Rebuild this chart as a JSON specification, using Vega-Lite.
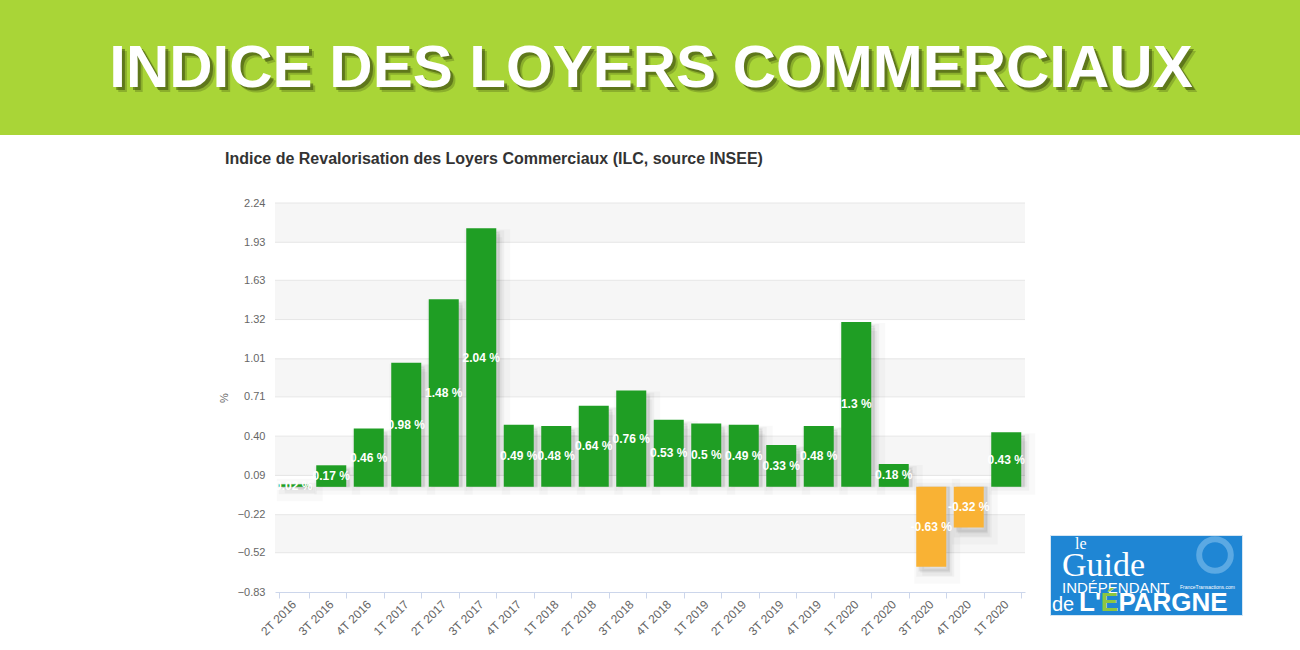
{
  "$schema": "https://vega.github.io/schema/vega-lite/v6.json",
  "padding": 0,
  "background": "#ffffff",
  "config": {"view": {"stroke": null}, "font": "Liberation Sans", "axisY": {"labelOverlap": false}},
  "datasets": {
    "bars": [
      {"q": "2T 2016", "v": 0.02},
      {"q": "3T 2016", "v": 0.17},
      {"q": "4T 2016", "v": 0.46},
      {"q": "1T 2017", "v": 0.98},
      {"q": "2T 2017", "v": 1.48},
      {"q": "3T 2017", "v": 2.04},
      {"q": "4T 2017", "v": 0.49},
      {"q": "1T 2018", "v": 0.48},
      {"q": "2T 2018", "v": 0.64},
      {"q": "3T 2018", "v": 0.76},
      {"q": "4T 2018", "v": 0.53},
      {"q": "1T 2019", "v": 0.5},
      {"q": "2T 2019", "v": 0.49},
      {"q": "3T 2019", "v": 0.33},
      {"q": "4T 2019", "v": 0.48},
      {"q": "1T 2020", "v": 1.3},
      {"q": "2T 2020", "v": 0.18},
      {"q": "3T 2020", "v": -0.63},
      {"q": "4T 2020", "v": -0.32},
      {"q": "1T 2020\u200b", "v": 0.43}
    ],
    "bands": [
      {"a": 2.24, "b": 1.93},
      {"a": 1.63, "b": 1.32},
      {"a": 1.01, "b": 0.71},
      {"a": 0.40, "b": 0.09},
      {"a": -0.22, "b": -0.52}
    ],
    "ticks": [
      {"t": 2.24}, {"t": 1.93}, {"t": 1.63}, {"t": 1.32}, {"t": 1.01}, {"t": 0.71},
      {"t": 0.40}, {"t": 0.09}, {"t": -0.22}, {"t": -0.52}
    ]
  },
  "spacing": 68,
  "bounds": "flush",
  "vconcat": [
    {
      "width": 1300,
      "height": 135,
      "view": {"fill": "#a9d537", "stroke": null},
      "data": {"values": [{"t": "INDICE DES LOYERS COMMERCIAUX"}]},
      "layer": [
        {
          "mark": {"type": "text", "font": "Liberation Sans", "fontWeight": "bold", "fontSize": 60, "color": "#34420c", "opacity": 0.25, "baseline": "alphabetic", "align": "center", "dx": 6, "dy": 24},
          "encoding": {"text": {"field": "t"}}
        },
        {
          "mark": {"type": "text", "font": "Liberation Sans", "fontWeight": "bold", "fontSize": 60, "color": "#34420c", "opacity": 0.5, "baseline": "alphabetic", "align": "center", "dx": 4, "dy": 22},
          "encoding": {"text": {"field": "t"}}
        },
        {
          "mark": {"type": "text", "font": "Liberation Sans", "fontWeight": "bold", "fontSize": 60, "color": "#ffffff", "baseline": "alphabetic", "align": "center", "dx": 1, "dy": 19},
          "encoding": {"text": {"field": "t"}}
        }
      ]
    },
    {
      "spacing": 25,
      "bounds": "flush",
      "hconcat": [
        {
          "width": 250,
          "height": 10,
          "data": {"values": [{}]},
          "mark": {"type": "text"},
          "encoding": {"text": {"value": ""}}
        },
        {
          "width": 750,
          "height": 389,
          "title": {"text": "Indice de Revalorisation des Loyers Commerciaux (ILC, source INSEE)", "anchor": "start", "frame": "group", "dx": -50, "offset": 30, "fontSize": 16, "fontWeight": "bold", "color": "#333333", "font": "Liberation Sans"},
          "layer": [
            {
              "data": {"name": "bands"},
              "mark": {"type": "rect", "color": "#f6f6f6"},
              "encoding": {
                "y": {
                  "field": "a", "type": "quantitative", "title": "%",
                  "scale": {"domain": [-0.83, 2.24], "nice": false, "zero": false},
                  "axis": {
                    "values": [2.24, 1.93, 1.63, 1.32, 1.01, 0.71, 0.40, 0.09, -0.22, -0.52, -0.83],
                    "tickCount": 20,
                    "format": ".2f", "grid": false, "domain": false, "ticks": false,
                    "labelOverlap": false, "labelPadding": 10, "labelColor": "#666666", "labelFontSize": 11,
                    "titleColor": "#666666", "titleFontSize": 11, "titleFontWeight": "normal", "titlePadding": 8
                  }
                },
                "y2": {"field": "b"}
              }
            },
            {
              "data": {"name": "ticks"},
              "mark": {"type": "rule", "color": "#e6e6e6", "strokeWidth": 1},
              "encoding": {"y": {"field": "t", "type": "quantitative", "title": "%"}}
            },
            {
              "data": {"name": "bars"},
              "mark": {"type": "bar", "color": "#000000", "fillOpacity": 0.03, "stroke": "#000000", "strokeOpacity": 0.025, "strokeWidth": 16, "xOffset": 6, "yOffset": 9},
              "encoding": {
                "x": {"field": "q", "type": "nominal", "sort": null, "scale": {"paddingInner": 0.2, "paddingOuter": 0.1}},
                "y": {"field": "v", "type": "quantitative", "title": "%"},
                "y2": {"datum": 0}
              }
            },
            {
              "data": {"name": "bars"},
              "mark": {"type": "bar", "color": "#000000", "fillOpacity": 0.04, "stroke": "#000000", "strokeOpacity": 0.035, "strokeWidth": 8, "xOffset": 4, "yOffset": 6},
              "encoding": {
                "x": {"field": "q", "type": "nominal", "sort": null},
                "y": {"field": "v", "type": "quantitative", "title": "%"},
                "y2": {"datum": 0}
              }
            },
            {
              "data": {"name": "bars"},
              "mark": {"type": "bar", "color": "#000000", "fillOpacity": 0.05, "stroke": "#000000", "strokeOpacity": 0.04, "strokeWidth": 2, "xOffset": 3, "yOffset": 4},
              "encoding": {
                "x": {"field": "q", "type": "nominal", "sort": null},
                "y": {"field": "v", "type": "quantitative", "title": "%"},
                "y2": {"datum": 0}
              }
            },
            {
              "data": {"name": "bars"},
              "mark": {"type": "bar"},
              "encoding": {
                "x": {
                  "field": "q", "type": "nominal", "sort": null,
                  "axis": {"title": null, "labelAngle": -45, "labelColor": "#666666", "labelFontSize": 12, "domainColor": "#ccd6eb", "tickColor": "#ccd6eb", "tickBand": "extent", "tickSize": 6, "labelPadding": 4, "grid": false}
                },
                "y": {"field": "v", "type": "quantitative", "title": "%"},
                "y2": {"datum": 0},
                "color": {"condition": {"test": "datum.v < 0", "value": "#f9b234"}, "value": "#1f9e24"}
              }
            },
            {
              "data": {"name": "bars"},
              "transform": [
                {"calculate": "toString(datum.v) + ' %'", "as": "lab"},
                {"calculate": "datum.v / 2", "as": "mid"}
              ],
              "mark": {"type": "text", "color": "#ffffff", "fontWeight": "bold", "fontSize": 12, "baseline": "middle", "align": "center"},
              "encoding": {
                "x": {"field": "q", "type": "nominal", "sort": null},
                "y": {"field": "mid", "type": "quantitative", "title": "%"},
                "text": {"field": "lab"}
              }
            }
          ]
        },
        {
          "spacing": 0,
          "bounds": "flush",
          "vconcat": [
            {
              "width": 192,
              "height": 332,
              "data": {"values": [{}]},
              "mark": {"type": "text"},
              "encoding": {"text": {"value": ""}}
            },
            {
              "width": 192,
              "height": 80,
              "view": {"fill": "#1f86d4", "stroke": "#d5e6f3", "strokeWidth": 1},
              "data": {"values": [{"a": "le", "b": "Guide", "c": "INDÉPENDANT", "d": "de", "e": "L'ÉPARGNE", "f": "É", "g": "FranceTransactions.com"}]},
              "layer": [
                {
                  "mark": {"type": "point", "shape": "circle", "size": 1000, "filled": false, "stroke": "#8cc6f0", "strokeWidth": 6, "opacity": 0.55, "xOffset": 69, "yOffset": -20},
                  "encoding": {}
                },
                {
                  "mark": {"type": "text", "font": "Liberation Serif", "fontSize": 16, "color": "#ffffff", "align": "left", "baseline": "alphabetic", "dx": -71, "dy": -26},
                  "encoding": {"text": {"field": "a"}}
                },
                {
                  "mark": {"type": "text", "font": "Liberation Serif", "fontSize": 34, "color": "#ffffff", "align": "left", "baseline": "alphabetic", "dx": -84, "dy": 1},
                  "encoding": {"text": {"field": "b"}}
                },
                {
                  "mark": {"type": "text", "font": "Liberation Sans", "fontSize": 15, "color": "#ffffff", "align": "left", "baseline": "alphabetic", "dx": -84, "dy": 18},
                  "encoding": {"text": {"field": "c"}}
                },
                {
                  "mark": {"type": "text", "font": "Liberation Sans", "fontSize": 5, "color": "#ffffff", "align": "left", "baseline": "alphabetic", "dx": 34, "dy": 14},
                  "encoding": {"text": {"field": "g"}}
                },
                {
                  "mark": {"type": "text", "font": "Liberation Sans", "fontSize": 20, "color": "#ffffff", "align": "left", "baseline": "alphabetic", "dx": -94, "dy": 36},
                  "encoding": {"text": {"field": "d"}}
                },
                {
                  "mark": {"type": "text", "font": "Liberation Sans", "fontWeight": "bold", "fontSize": 26, "color": "#ffffff", "align": "left", "baseline": "alphabetic", "dx": -67, "dy": 36},
                  "encoding": {"text": {"field": "e"}}
                },
                {
                  "mark": {"type": "text", "font": "Liberation Sans", "fontWeight": "bold", "fontSize": 26, "color": "#8dc63f", "align": "left", "baseline": "alphabetic", "dx": -45, "dy": 36},
                  "encoding": {"text": {"field": "f"}}
                }
              ]
            }
          ]
        }
      ]
    }
  ]
}
